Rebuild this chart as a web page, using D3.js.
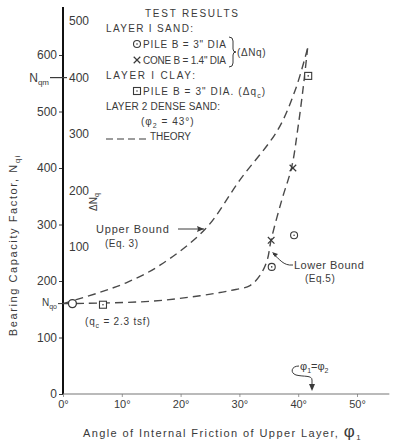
<!DOCTYPE html>
<html>
<head>
<meta charset="utf-8">
<script src="https://cdn.jsdelivr.net/npm/d3@7"></script>
<style>
  body { margin: 0; background: #fff; }
  text { font-family: "Liberation Sans", Arial, sans-serif; fill: #3a3a3a; }
</style>
</head>
<body>
<div id="chart"></div>
<script>
// values
const nqTicks = [0, 100, 200, 300, 400, 500, 600];
const dNqTicks = [100, 200, 300, 400, 500];
const phiTicks = [0, 10, 20, 30, 40, 50];
const nqo = 160;
const nqm = 560;

const phiUpper = [0, 6, 11, 16.5, 24.2, 30.1, 36.5, 39.5, 41.6];
const nqUpper = [160, 179, 198, 228, 292, 379, 467, 538, 612];

const phiLower = [0, 14.8, 23.3, 28.4, 31.8, 33.5, 34.7, 35.4, 37.2, 38.9, 39.9, 40.8, 41.6];
const nqLower = [160, 164, 174, 183, 192, 210, 236, 273, 343, 402, 467, 538, 612];

const pilePhi = [35.5, 39.3];
const pileNq = [225, 281];
const conePhi = [35.4, 39.1];
const coneNq = [272, 400];
const clayPhi = [6.8, 41.7];
const clayNq = [158, 563];

const width = 403, height = 442;
const ink = '#3a3a3a';

const svg = d3.select('#chart').append('svg')
  .attr('width', width)
  .attr('height', height);

const x = d3.scaleLinear().domain([0, 50]).range([63, 357]);
const y = d3.scaleLinear().domain([0, 600]).range([394, 55]);
const yD = d3.scaleLinear().domain([0, 500]).range([y(nqo), y(nqo + 500)]);

// left axis (Nq)
const gy = svg.append('g')
  .attr('transform', `translate(${x(0)},0)`)
  .call(d3.axisLeft(y).tickValues(nqTicks).tickSize(4).tickPadding(2).tickFormat(d3.format('d')));
gy.select('.domain').remove();
gy.selectAll('.tick line').attr('stroke', ink);
gy.selectAll('.tick text').style('font-size', '12px').style('fill', ink);

// thick vertical axis line
svg.append('line')
  .attr('x1', x(0)).attr('x2', x(0))
  .attr('y1', y(0)).attr('y2', y(685))
  .attr('stroke', '#111').attr('stroke-width', 2);

// inner axis (delta Nq)
const gd = svg.append('g')
  .attr('transform', `translate(${x(0)},0)`)
  .call(d3.axisRight(yD).tickValues(dNqTicks).tickSize(0).tickPadding(6).tickFormat(d3.format('d')));
gd.select('.domain').remove();
gd.selectAll('.tick text').style('font-size', '12px').style('fill', ink);

// x axis
const gx = svg.append('g')
  .attr('transform', `translate(0,${y(0)})`)
  .call(d3.axisBottom(x).tickValues(phiTicks).tickSize(3).tickPadding(3).tickFormat(d => d + '°'));
gx.select('.domain').remove();
gx.selectAll('.tick line').attr('stroke', '#999');
gx.selectAll('.tick text').style('font-size', '11px').style('fill', ink);

svg.append('line')
  .attr('x1', x(0)).attr('x2', x(55.5))
  .attr('y1', y(0)).attr('y2', y(0))
  .attr('stroke', '#777').attr('stroke-width', 1.2);

// Nqm and Nqo marks on the axis
svg.append('line')
  .attr('x1', x(0) - 13).attr('x2', x(0) + 4)
  .attr('y1', y(nqm)).attr('y2', y(nqm))
  .attr('stroke', ink).attr('stroke-width', 1.2);
const lblNqm = svg.append('text')
  .attr('x', x(0) - 14).attr('y', y(nqm) + 4)
  .attr('text-anchor', 'end').style('font-size', '12px');
lblNqm.append('tspan').text('N');
lblNqm.append('tspan').attr('dy', 3).style('font-size', '8px').text('qm');

svg.append('line')
  .attr('x1', x(0) - 5).attr('x2', x(0))
  .attr('y1', y(nqo)).attr('y2', y(nqo))
  .attr('stroke', ink).attr('stroke-width', 1);
const lblNqo = svg.append('text')
  .attr('x', x(0) - 6).attr('y', y(nqo) + 2)
  .attr('text-anchor', 'end').style('font-size', '10px');
lblNqo.append('tspan').text('N');
lblNqo.append('tspan').attr('dy', 3).style('font-size', '7px').text('qo');

// theory curves
const line = d3.line()
  .x(d => x(d[0]))
  .y(d => y(d[1]))
  .curve(d3.curveCatmullRom.alpha(0.5));

const upper = phiUpper.map((p, i) => [p, nqUpper[i]]);
const lower = phiLower.map((p, i) => [p, nqLower[i]]);

[upper, lower].forEach(pts => {
  svg.append('path')
    .attr('d', line(pts))
    .attr('fill', 'none')
    .attr('stroke', '#4a4a4a')
    .attr('stroke-width', 1.4)
    .attr('stroke-dasharray', '8,5');
});

// Nqo start marker
svg.append('circle')
  .attr('cx', x(1.6)).attr('cy', y(nqo))
  .attr('r', 4).attr('fill', '#fff')
  .attr('stroke', ink).attr('stroke-width', 1.3);

// layer 1 sand: pile (circle with dot)
pilePhi.forEach((p, i) => {
  const g = svg.append('g').attr('transform', `translate(${x(p)},${y(pileNq[i])})`);
  g.append('circle').attr('r', 3.5).attr('fill', '#fff').attr('stroke', ink).attr('stroke-width', 1.1);
  g.append('circle').attr('r', 0.8).attr('fill', ink);
});

// layer 1 sand: cone (cross)
const cross = d3.symbol().type(d3.symbolTimes).size(30);
conePhi.forEach((p, i) => {
  svg.append('path')
    .attr('d', cross())
    .attr('transform', `translate(${x(p)},${y(coneNq[i])})`)
    .attr('fill', 'none').attr('stroke', ink).attr('stroke-width', 1.2);
});

// layer 1 clay: pile (square with dot)
clayPhi.forEach((p, i) => {
  const g = svg.append('g').attr('transform', `translate(${x(p)},${y(clayNq[i])})`);
  g.append('rect').attr('x', -3.5).attr('y', -3.5).attr('width', 7).attr('height', 7)
    .attr('fill', '#fff').attr('stroke', ink).attr('stroke-width', 1.1);
  g.append('circle').attr('r', 0.8).attr('fill', ink);
});

// annotations
const ann = (tx, ty, str, size, spacing) => svg.append('text')
  .attr('x', tx).attr('y', ty)
  .style('font-size', size + 'px')
  .style('letter-spacing', spacing + 'px')
  .text(str);

ann(96, 233, 'Upper  Bound', 11, 0.8);
ann(105, 247, '(Eq. 3)', 10, 0.5);
svg.append('line')
  .attr('x1', 178).attr('x2', 204).attr('y1', 229).attr('y2', 229)
  .attr('stroke', ink).attr('stroke-width', 1);
svg.append('path')
  .attr('d', 'M204,229 L197,226 L198,229 L197,232 Z')
  .attr('fill', ink);

ann(294, 269, 'Lower  Bound', 11, 0.5);
ann(305, 282, '(Eq.5)', 10, 0.5);
svg.append('path')
  .attr('d', 'M293,265 C283,266 280,259 273,254')
  .attr('fill', 'none').attr('stroke', ink).attr('stroke-width', 1);
svg.append('path')
  .attr('d', 'M272,252 L278,254 L275,257 Z')
  .attr('fill', ink);

const qc = svg.append('text').attr('x', 85).attr('y', 325)
  .style('font-size', '10px').style('letter-spacing', '0.8px');
qc.append('tspan').text('(q');
qc.append('tspan').attr('dy', 3).style('font-size', '7px').text('c');
qc.append('tspan').attr('dy', -3).text(' = 2.3 tsf)');

// phi1 = phi2 marker
const ph = svg.append('text').attr('x', 300).attr('y', 370)
  .style('font-size', '11px');
ph.append('tspan').text('φ');
ph.append('tspan').attr('dy', 3).style('font-size', '7px').text('1');
ph.append('tspan').attr('dy', -3).text('=φ');
ph.append('tspan').attr('dy', 3).style('font-size', '7px').text('2');
svg.append('path')
  .attr('d', 'M299,366 C291,366 290,373 296,375 C304,377 312,375 312,380 L312,389')
  .attr('fill', 'none').attr('stroke', ink).attr('stroke-width', 1);
svg.append('path')
  .attr('d', 'M312,391 L309,384 L315,384 Z')
  .attr('fill', ink);

// rotated delta Nq label
const dl = svg.append('text')
  .attr('transform', 'translate(97,202) rotate(-90)')
  .attr('text-anchor', 'middle')
  .style('font-size', '10px');
dl.append('tspan').text('ΔN');
dl.append('tspan').attr('dy', 2).style('font-size', '7px').text('q');

// axis titles
const yt = svg.append('text')
  .attr('transform', 'translate(17,245) rotate(-90)')
  .attr('text-anchor', 'middle')
  .style('font-size', '11px')
  .style('letter-spacing', '1.6px');
yt.append('tspan').text('Bearing Capacity Factor, N');
yt.append('tspan').attr('dy', 3).style('font-size', '8px').text('qi');

const xt = svg.append('text')
  .attr('x', 83).attr('y', 437)
  .style('font-size', '11px')
  .style('letter-spacing', '1.4px');
xt.append('tspan').text('Angle of Internal Friction of Upper Layer, ');
xt.append('tspan').style('font-size', '17px').text('φ');
xt.append('tspan').attr('dy', 3).style('font-size', '8px').text('1');

// legend block: each row stretched to the width it has in the reference
const leg = (tx, ty, str, len) => svg.append('text')
  .attr('x', tx).attr('y', ty)
  .attr('textLength', len)
  .attr('lengthAdjust', 'spacing')
  .style('font-size', '10px')
  .text(str);
leg(145, 17, 'TEST   RESULTS', 93);
leg(106, 32, 'LAYER I  SAND:', 87);
leg(143, 48, 'PILE B = 3" DIA', 83);
leg(143, 64, 'CONE B = 1.4" DIA', 83);
leg(106, 79, 'LAYER I  CLAY:', 89);
const clay = svg.append('text').attr('x', 143).attr('y', 95)
  .style('font-size', '10px').style('letter-spacing', '1.1px');
clay.append('tspan').text('PILE B = 3" DIA. (Δq');
clay.append('tspan').attr('dy', 3).style('font-size', '7px').text('c');
clay.append('tspan').attr('dy', -3).text(')');
leg(106, 110, 'LAYER 2 DENSE SAND:', 114);
const p2 = svg.append('text').attr('x', 141).attr('y', 125).style('font-size', '10px').style('letter-spacing', '1px');
p2.append('tspan').text('(φ');
p2.append('tspan').attr('dy', 3).style('font-size', '7px').text('2');
p2.append('tspan').attr('dy', -3).text(' = 43°)');
leg(150, 140, 'THEORY', 41);
svg.append('line')
  .attr('x1', 106).attr('x2', 149).attr('y1', 139).attr('y2', 139)
  .attr('stroke', ink).attr('stroke-width', 1.2).attr('stroke-dasharray', '7,4');

// legend symbols
const lp = svg.append('g').attr('transform', 'translate(137,44)');
lp.append('circle').attr('r', 3.5).attr('fill', '#fff').attr('stroke', ink).attr('stroke-width', 1.1);
lp.append('circle').attr('r', 0.8).attr('fill', ink);
svg.append('path').attr('d', cross()).attr('transform', 'translate(137,60)')
  .attr('fill', 'none').attr('stroke', ink).attr('stroke-width', 1.2);
const ls = svg.append('g').attr('transform', 'translate(137,91)');
ls.append('rect').attr('x', -3.5).attr('y', -3.5).attr('width', 7).attr('height', 7)
  .attr('fill', '#fff').attr('stroke', ink).attr('stroke-width', 1.1);
ls.append('circle').attr('r', 0.8).attr('fill', ink);

// brace and (delta Nq)
svg.append('path')
  .attr('d', 'M229,37 Q233,37 233,41 L233,49 Q233,52 236,52 Q233,52 233,55 L233,63 Q233,67 229,67')
  .attr('fill', 'none').attr('stroke', ink).attr('stroke-width', 1);
const dn = svg.append('text').attr('x', 237).attr('y', 56).style('font-size', '10px').style('letter-spacing', '0.6px');
dn.append('tspan').text('(ΔNq)');
</script>
</body>
</html>
